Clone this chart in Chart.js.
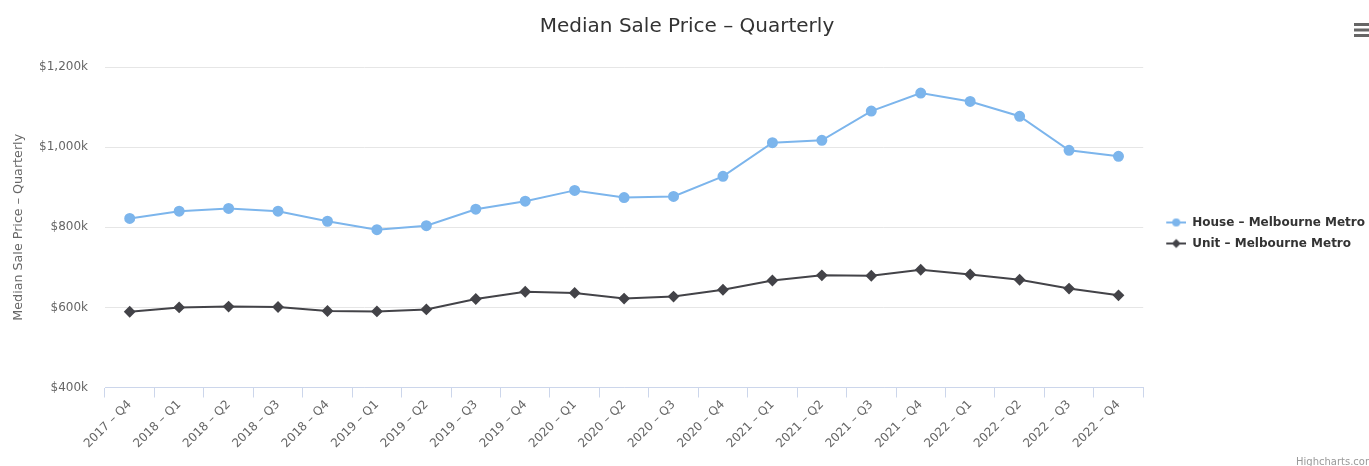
<!DOCTYPE html>
<html>
<head>
<meta charset="utf-8">
<script src="https://cdn.jsdelivr.net/npm/chart.js@4"></script>
<style>
  html, body { margin: 0; padding: 0; background: #fff; }
  #wrap { width: 1369px; height: 466px; position: relative; }
</style>
</head>
<body>
<div id="wrap"><canvas id="myChart"></canvas></div>
<script>
// quarters on the x axis
var quarters = ["2017 – Q4", "2018 – Q1", "2018 – Q2", "2018 – Q3", "2018 – Q4",
  "2019 – Q1", "2019 – Q2", "2019 – Q3", "2019 – Q4", "2020 – Q1", "2020 – Q2",
  "2020 – Q3", "2020 – Q4", "2021 – Q1", "2021 – Q2", "2021 – Q3", "2021 – Q4",
  "2022 – Q1", "2022 – Q2", "2022 – Q3", "2022 – Q4"];

// median prices in $k
var housePrices = [822, 840, 847, 840, 815, 794, 804, 845, 865, 892, 874,
  877, 927, 1011, 1017, 1090, 1135, 1114, 1077, 992, 977];
var unitPrices = [589, 600, 602, 601, 591, 590, 595, 621, 639, 636, 622,
  627, 644, 667, 680, 679, 694, 682, 669, 647, 630];

var yTicks = [400, 600, 800, 1000, 1200];

var FONT = "'DejaVu Sans', sans-serif";

// little line + marker pictures for the legend (blank on the left to push it right)
function legendIcon(color, style) {
  var c = document.createElement('canvas');
  c.width = 34; c.height = 12;
  var g = c.getContext('2d');
  g.strokeStyle = color; g.lineWidth = 2;
  g.beginPath(); g.moveTo(14, 6); g.lineTo(34, 6); g.stroke();
  g.fillStyle = color;
  g.beginPath();
  if (style == 'circle') {
    g.arc(24, 6, 4, 0, Math.PI * 2);
  } else {
    g.moveTo(24, 1.5); g.lineTo(28.5, 6); g.lineTo(24, 10.5); g.lineTo(19.5, 6); g.closePath();
  }
  g.fill();
  return c;
}
var icons = [legendIcon('#7cb5ec', 'circle'), legendIcon('#434348', 'diamond')];

var extras = {
  id: 'extras',
  afterDraw: function(chart) {
    var ctx = chart.ctx;
    ctx.save();
    // menu button
    ctx.strokeStyle = '#666'; ctx.lineWidth = 3;
    for (var i = 0; i < 3; i++) {
      ctx.beginPath();
      ctx.moveTo(1354, 24.5 + i * 5.5);
      ctx.lineTo(1369, 24.5 + i * 5.5);
      ctx.stroke();
    }
    // credits
    ctx.fillStyle = '#999';
    ctx.font = "10px " + FONT;
    ctx.textAlign = 'left';
    ctx.textBaseline = 'alphabetic';
    ctx.fillText('Highcharts.com', 1296, 465);
    ctx.restore();
  }
};

var ctx = document.getElementById('myChart').getContext('2d');
var myChart = new Chart(ctx, {
  type: 'line',
  data: {
    labels: quarters,
    datasets: [
      {
        label: "House – Melbourne Metro",
        data: housePrices,
        borderColor: "#7cb5ec",
        backgroundColor: "#7cb5ec",
        borderWidth: 2,
        pointStyle: 'circle',
        pointRadius: 4.5,
        pointHoverRadius: 5,
        tension: 0,
        fill: false
      },
      {
        label: "Unit – Melbourne Metro",
        data: unitPrices,
        borderColor: "#434348",
        backgroundColor: "#434348",
        borderWidth: 2,
        pointStyle: 'rectRot',
        pointRadius: 4.5,
        pointHoverRadius: 5,
        tension: 0,
        fill: false
      }
    ]
  },
  options: {
    responsive: true,
    maintainAspectRatio: false,
    animation: false,
    layout: { padding: { top: 15, right: -6, bottom: 15, left: -1 } },
    plugins: {
      title: {
        display: true,
        text: 'Median Sale Price – Quarterly',
        color: '#333333',
        font: { family: FONT, size: 20, weight: 'normal' },
        padding: { top: 0, bottom: 28 }
      },
      legend: {
        position: 'right',
        align: 'center',
        labels: {
          color: '#333333',
          font: { family: FONT, size: 12, weight: 'bold' },
          usePointStyle: true,
          pointStyleWidth: 34,
          padding: 9,
          generateLabels: function(chart) {
            var items = Chart.defaults.plugins.legend.labels.generateLabels(chart);
            items.forEach(function(it, i) { it.pointStyle = icons[i]; });
            return items;
          }
        }
      },
      tooltip: { enabled: false }
    },
    scales: {
      x: {
        offset: true,
        grid: {
          offset: true,
          drawOnChartArea: false,
          drawTicks: true,
          tickLength: 10,
          color: '#ccd6eb'
        },
        border: { display: true, color: '#ccd6eb', width: 1 },
        ticks: {
          color: '#666666',
          font: { family: FONT, size: 12 },
          minRotation: 45,
          maxRotation: 45,
          autoSkip: false,
          padding: 0
        }
      },
      y: {
        min: 400,
        max: 1200,
        afterBuildTicks: function(axis) {
          axis.ticks = yTicks.map(function(v) { return { value: v }; });
        },
        afterFit: function(axis) { axis.width = 106; },
        grid: { color: '#e6e6e6', drawTicks: false },
        border: { display: false },
        ticks: {
          color: '#666666',
          font: { family: FONT, size: 12 },
          padding: 17,
          callback: function(v) { return '$' + v.toLocaleString('en-US') + 'k'; }
        },
        title: {
          display: true,
          text: 'Median Sale Price – Quarterly',
          color: '#666666',
          font: { family: FONT, size: 12.7 },
          padding: { top: 12, bottom: 0 }
        }
      }
    }
  },
  plugins: [extras]
});
</script>
</body>
</html>
